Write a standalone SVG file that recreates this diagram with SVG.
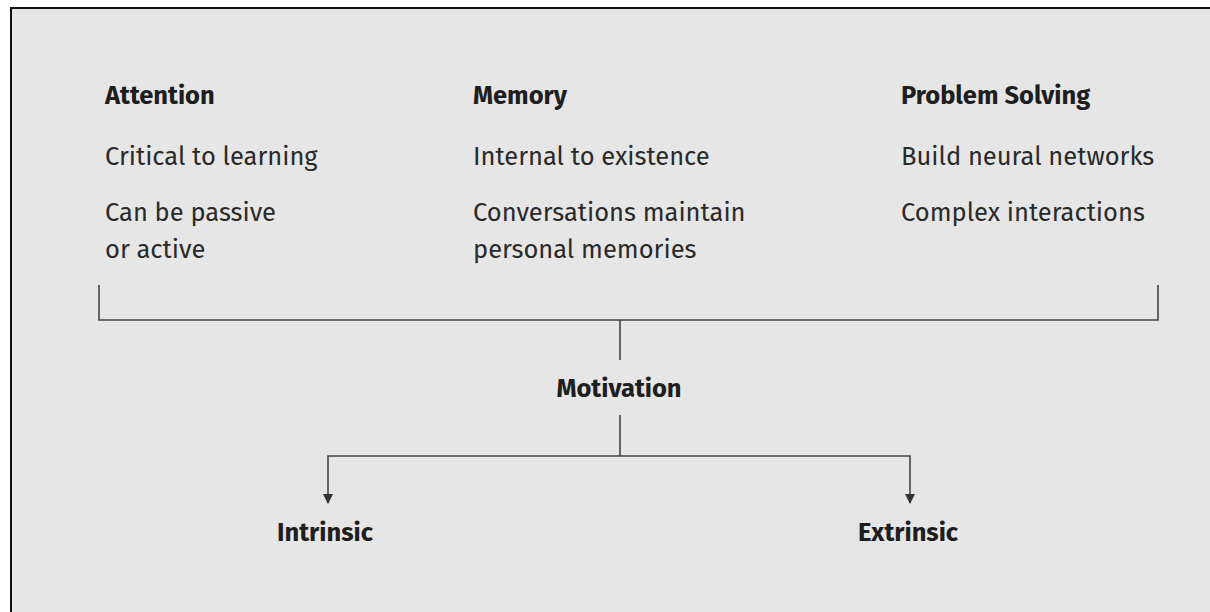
<svg xmlns="http://www.w3.org/2000/svg" width="1210" height="612" viewBox="0 0 1210 612">
  <style>
    .t { font-family: "Fira Sans", "Open Sans", "Noto Sans", sans-serif; font-size: 25.5px; fill: #2a2a2a; }
    .b { font-weight: bold; fill: #1e1e1e; }
    .ln { fill: none; stroke: #444; stroke-width: 1.6; }
  </style>
  <defs>
    <marker id="arr" viewBox="0 0 10 10" refX="9" refY="5" markerWidth="10" markerHeight="14" markerUnits="userSpaceOnUse" orient="auto">
      <path d="M0,0 L10,5 L0,10 Z" fill="#333"/>
    </marker>
  </defs>
  <rect width="1210" height="612" fill="#ffffff"/>
  <rect x="11" y="8" width="1210" height="620" fill="#e6e6e6" stroke="#111" stroke-width="2"/>

  <g id="attention">
    <text class="t b" x="105" y="104">Attention</text>
    <text class="t" x="105" y="165">Critical to learning</text>
    <text class="t" x="105" y="221">Can be passive</text>
    <text class="t" x="105" y="258">or active</text>
  </g>
  <g id="memory">
    <text class="t b" x="473" y="104">Memory</text>
    <text class="t" x="473" y="165">Internal to existence</text>
    <text class="t" x="473" y="221">Conversations maintain</text>
    <text class="t" x="473" y="258">personal memories</text>
  </g>
  <g id="problem-solving">
    <text class="t b" x="901" y="104">Problem Solving</text>
    <text class="t" x="901" y="165">Build neural networks</text>
    <text class="t" x="901" y="221">Complex interactions</text>
  </g>
  <g id="motivation">
    <text class="t b" x="619" y="397" text-anchor="middle">Motivation</text>
  </g>
  <g id="intrinsic">
    <text class="t b" x="325" y="541" text-anchor="middle">Intrinsic</text>
  </g>
  <g id="extrinsic">
    <text class="t b" x="908" y="541" text-anchor="middle">Extrinsic</text>
  </g>

  <g id="connectors">
    <path class="ln" d="M99,285 V320 H1158 V285"/>
    <path class="ln" d="M620,320 V360"/>
    <path class="ln" d="M620,415 V456"/>
    <path class="ln" d="M620,456 H328 V503" marker-end="url(#arr)"/>
    <path class="ln" d="M620,456 H910 V503" marker-end="url(#arr)"/>
  </g>
</svg>
